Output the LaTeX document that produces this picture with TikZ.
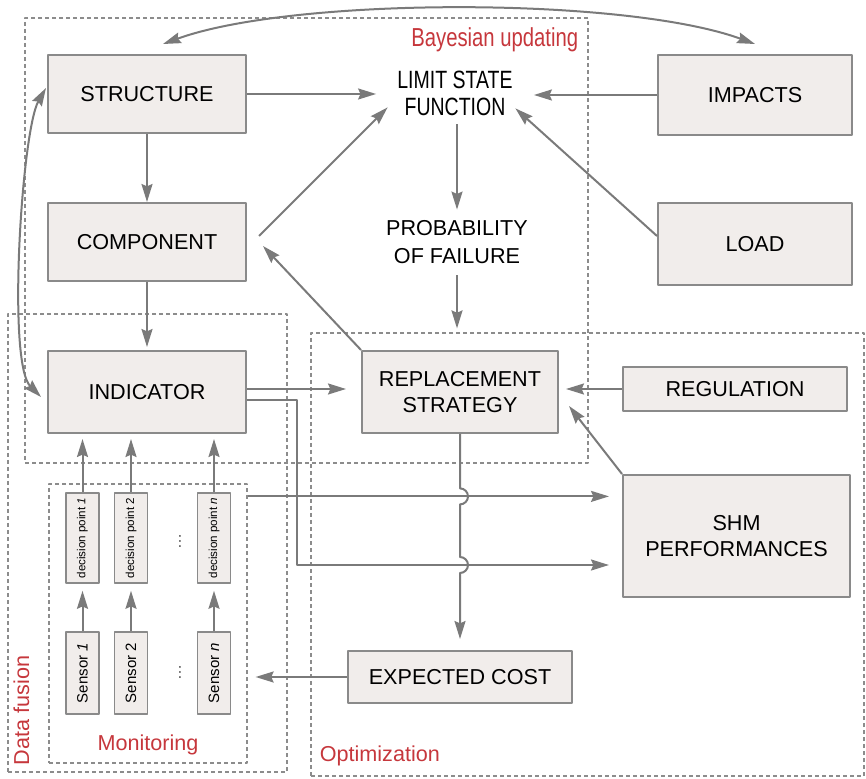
\documentclass[tikz,border=0pt]{standalone}
\usepackage{fontspec}
\usetikzlibrary{arrows.meta}
\setmainfont{Liberation Sans}
\newfontfamily\narrowfont{Liberation Sans}[FakeStretch=0.78]
\definecolor{boxfill}{HTML}{F1EDEB}
\definecolor{boxline}{HTML}{8A8A8A}
\definecolor{linegray}{HTML}{7A7A7A}
\definecolor{groupline}{HTML}{8C8C8C}
\definecolor{grouptext}{HTML}{C6373C}
\begin{document}
\begin{tikzpicture}[x=0.5pt,y=-0.5pt,line join=round,>={Stealth[length=9pt,width=5.5pt,inset=1.2pt]},font=\fontsize{10.8}{13}\selectfont]
\tikzset{box/.style={draw=boxline,fill=boxfill,line width=1pt,inner sep=0pt,align=center},
	group/.style={draw=groupline,dash pattern=on 2pt off 1.5pt,line width=0.6pt,inner sep=0pt},
	grouplabel/.style={text=grouptext,inner sep=0pt},
	arr/.style={->,draw=linegray,line width=1pt}}
\useasboundingbox (0,0) rectangle (866,779);
% dashed groups
\node[group,minimum width=281.5pt,minimum height=222.5pt] (bay) at (306.5,240.5) {};
\node[group,minimum width=139.5pt,minimum height=229pt] (fusion) at (147.5,543) {};
\node[group,minimum width=99pt,minimum height=139.5pt] (mon) at (148,623.5) {};
\node[group,minimum width=276.5pt,minimum height=221.5pt] (opt) at (587.5,554.5) {};
\node[grouplabel,anchor=north east,font=\narrowfont\fontsize{13}{13}\selectfont] (bayl) at ([shift={(-10,10)}]bay.north east) {Bayesian updating};
\node[grouplabel,anchor=south west] (optl) at ([shift={(9,-10)}]opt.south west) {Optimization};
\node[grouplabel,anchor=south] (monl) at ([yshift=4pt]mon.south) {Monitoring};
\node[grouplabel,rotate=90,anchor=west] (fusl) at ([shift={(14,-7)}]fusion.south west) {Data fusion};
% blocks
\node[box,minimum width=99pt,minimum height=39pt] (str) at (147,94) {STRUCTURE};
\node[box,minimum width=99pt,minimum height=39pt] (comp) at (147,242) {COMPONENT};
\node[box,minimum width=99pt,minimum height=41pt] (ind) at (147,392) {INDICATOR};
\node[box,minimum width=97pt,minimum height=40pt] (imp) at (755,95) {IMPACTS};
\node[box,minimum width=97pt,minimum height=41pt] (load) at (755,244) {LOAD};
\node[box,minimum width=98pt,minimum height=41pt] (repl) at (460,392) {REPLACEMENT\\STRATEGY};
\node[box,minimum width=112pt,minimum height=22pt] (reg) at (735,389) {REGULATION};
\node[box,minimum width=113.5pt,minimum height=61pt] (shm) at (736.5,536) {SHM\\PERFORMANCES};
\node[box,minimum width=112pt,minimum height=26pt] (cost) at (460,677) {EXPECTED COST};
\node[align=center,inner sep=0pt,minimum width=78.5pt,minimum height=31pt,font=\narrowfont\fontsize{12.5}{13.5}\selectfont] (lsf) at (455,93) {LIMIT STATE\\FUNCTION};
\node[align=center,inner sep=0pt,minimum width=80pt,minimum height=32.5pt,font=\fontsize{10.8}{14}\selectfont] (pof) at (457,242.5) {PROBABILITY\\OF FAILURE};
% sensors and decision points
\foreach \px/\tag [count=\k] in {82.5/\textit{1},131/2,214/\textit{n}}{
	\node[box,line width=0.8pt,rotate=90,minimum width=45pt,minimum height=16.5pt,font=\fontsize{5.8}{7}\selectfont] (dp\k) at (\px,538) {decision point \tag};
	\node[box,line width=0.8pt,rotate=90,minimum width=41pt,minimum height=16.5pt,font=\fontsize{7.5}{8}\selectfont] (sn\k) at (\px,673) {Sensor \tag};
	\draw[arr,shorten >=3.5pt] (sn\k) -- (dp\k);
	\draw[arr,shorten >=2.5pt] (dp\k) -- (dp\k |- ind.south);
}
\node[rotate=90,inner sep=0pt,text=black!70,font=\fontsize{8}{8}\selectfont] (dotsa) at (180,542) {\dots};
\node[rotate=90,inner sep=0pt,text=black!70,font=\fontsize{8}{8}\selectfont] (dotsb) at (180,672) {\dots};
% connectors
\draw[arr] (str) -- (comp);
\draw[arr,shorten >=1.5pt] (comp) -- (ind);
\draw[arr] (str.east) -- (str.east -| lsf.west);
\draw[arr] (imp.west) -- (imp.west -| lsf.east);
\draw[arr] ([shift={(12,-6)}]comp.east) -- ([shift={(11.5,-17)}]lsf.south west);
\draw[arr] ([yshift=4pt]load.west) -- ([shift={(-18.5,-16)}]lsf.south east);
\draw[arr] (lsf.south -| pof) -- (pof);
\draw[arr,shorten >=2pt] (pof) -- (pof |- opt.north);
\draw[arr] (repl.north west) -- ([shift={(16,4)}]comp.east);
\draw[arr,shorten >=7.5pt] ([yshift=1.5pt]ind.east) -- ([yshift=1.5pt]ind.east -| repl.west);
\draw[arr,shorten >=3.5pt] (reg.west) -- (reg.west -| repl.east);
\draw[arr] (shm.north west) -- ([shift={(10,14)}]repl.east);
\coordinate (la) at ([yshift=-6.5pt]mon.north east);
\coordinate (lb) at ([yshift=-14.5pt]shm.west);
\draw[arr,shorten >=6.5pt] (la) -- (la -| shm.west);
\draw[arr,shorten >=6.5pt] ([yshift=-4pt]ind.east) -- ++(50,0) |- (lb);
\draw[arr,shorten >=5.5pt] (repl.south) -- ([yshift=4pt]repl.south |- la) arc[start angle=90,end angle=-90,radius=4pt]
	-- ([yshift=4pt]repl.south |- lb) arc[start angle=90,end angle=-90,radius=4pt] -- (cost.north);
\draw[arr,shorten >=4pt] (cost.west) -- (cost.west -| mon.east);
\draw[arr,<->] ([shift={(16,-10)}]str.north) to[out=20,in=160,looseness=0.6] ([yshift=5pt]imp.north);
\draw[arr,<->] ([shift={(-1,-6)}]str.west) to[out=240,in=135,looseness=0.4] ([shift={(-6,5)}]ind.west);
\end{tikzpicture}
\end{document}
